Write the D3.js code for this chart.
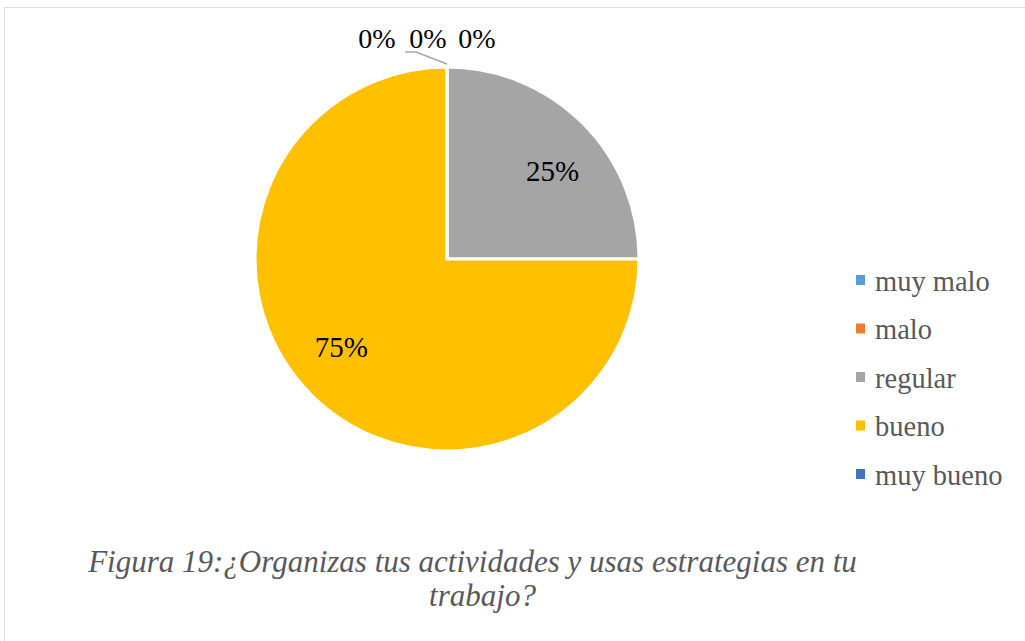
<!DOCTYPE html>
<html><head><meta charset="utf-8">
<script src="https://cdn.jsdelivr.net/npm/d3@7"></script>
</head><body style="margin:0">
<svg id="c" width="1025" height="641"></svg>
<script>
const categories = ["muy malo","malo","regular","bueno","muy bueno"];
const values = [0,0,1,3,0];
const colors = ["#5B9BD5","#ED7D31","#A5A5A5","#FFC000","#4472C4"];
const captionLines = ["Figura 19:¿Organizas tus actividades y usas estrategias en tu","trabajo?"];

const FONT = '"Liberation Serif", "Times New Roman", Tinos, FreeSerif, serif';
const svg = d3.select("#c").style("font-family", FONT);
svg.append("rect").attr("x",4.5).attr("y",7.5).attr("width",1030).attr("height",650)
  .attr("fill","#fff").attr("stroke","#d9d9d9").attr("stroke-width",1);

const cx = 447, cy = 259, R = 192;
const total = d3.sum(values);
const pie = d3.pie().sort(null).value(d=>d)(values);
const arc = d3.arc().innerRadius(0).outerRadius(R);
const color = d3.scaleOrdinal().domain(categories).range(colors);
const fmt = v => Math.round(v/total*100) + "%";

const g = svg.append("g").attr("transform",`translate(${cx},${cy})`);
g.selectAll("path").data(pie).join("path")
  .attr("d",arc).attr("fill",(d,i)=>color(categories[i]))
  .attr("stroke","#fff").attr("stroke-width",3).attr("stroke-linejoin","round");

const labelArc = d3.arc().innerRadius(137).outerRadius(137);
const labelPos = d => { const [x,y] = labelArc.centroid(d); return [x*1.09, y*0.905]; };
g.selectAll("text.in").data(pie.filter(d=>d.value>0)).join("text")
  .attr("class","in")
  .attr("transform",d=>`translate(${labelPos(d)})`)
  .attr("text-anchor","middle").attr("dy","0.34em")
  .style("font-family",FONT).attr("font-size",29).attr("fill","#000")
  .text(d=>fmt(d.value));

const zeros = pie.filter(d=>d.value===0);
const zeroOffsets = [-70, -19, 30];
g.selectAll("text.out").data(zeros).join("text")
  .attr("class","out")
  .attr("x",(d,i)=>zeroOffsets[i]).attr("y",-R-19)
  .attr("text-anchor","middle")
  .style("font-family",FONT).attr("font-size",28).attr("fill","#000")
  .text(d=>fmt(d.value));
g.append("polyline")
  .attr("points",`${-42},${-R-15} ${-31},${-R-15} ${0},${-R-3}`)
  .attr("fill","none").attr("stroke","#a6a6a6").attr("stroke-width",1.5);

const lg = svg.append("g").attr("transform","translate(856,280)");
const items = lg.selectAll("g").data(categories).join("g")
  .attr("transform",(d,i)=>`translate(0,${i*48.5})`);
items.append("rect").attr("x",0).attr("y",-5).attr("width",9).attr("height",10)
  .attr("fill",d=>color(d));
items.append("text").attr("x",19).attr("y",10.5)
  .style("font-family",FONT).attr("font-size",28.5).attr("fill","#595959")
  .text(d=>d);

svg.append("g").selectAll("text").data(captionLines).join("text")
  .attr("x",(d,i)=>i===0?472.5:482.5).attr("y",(d,i)=>572+i*34)
  .attr("text-anchor","middle")
  .style("font-family",FONT).attr("font-style","italic").attr("font-size",31)
  .attr("fill","#595959").text(d=>d);
</script>
</body></html>
